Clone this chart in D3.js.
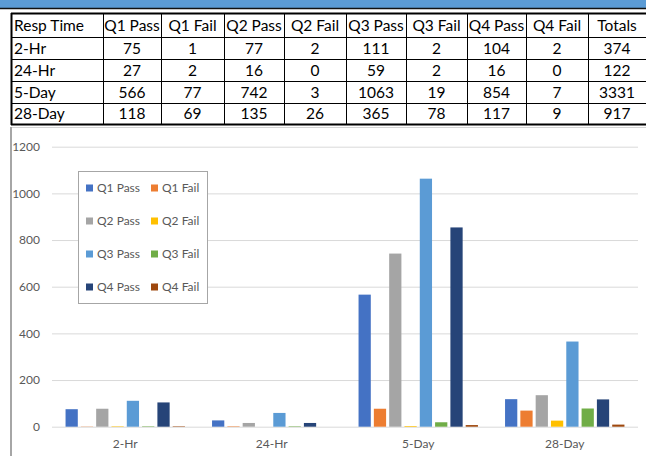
<!DOCTYPE html>
<meta charset="utf-8">
<html>
<head>
	<script src="https://d3js.org/d3.v7.min.js"></script>
	<style>
		body { margin: 0; background: #fff; }
		svg text { font-family: Lato, "Open Sans", sans-serif; }
	</style>
</head>
<body>
	<svg id="chart" width="646" height="456"></svg>

	<script>
	var categories = ["2-Hr", "24-Hr", "5-Day", "28-Day"];
	var seriesNames = ["Q1 Pass", "Q1 Fail", "Q2 Pass", "Q2 Fail", "Q3 Pass", "Q3 Fail", "Q4 Pass", "Q4 Fail"];
	var q1Pass = [75, 27, 566, 118];
	var q1Fail = [1, 2, 77, 69];
	var q2Pass = [77, 16, 742, 135];
	var q2Fail = [2, 0, 3, 26];
	var q3Pass = [111, 59, 1063, 365];
	var q3Fail = [2, 2, 19, 78];
	var q4Pass = [104, 16, 854, 117];
	var q4Fail = [2, 0, 7, 9];
	var totals = [374, 122, 3331, 917];
	var yTicks = [0, 200, 400, 600, 800, 1000, 1200];
	var colors = ["#4472c4", "#ed7d31", "#a5a5a5", "#ffc000", "#5b9bd5", "#70ad47", "#264478", "#9e480e"];

	var seriesValues = [q1Pass, q1Fail, q2Pass, q2Fail, q3Pass, q3Fail, q4Pass, q4Fail];

	var svg = d3.select("#chart");

	// blue strip + black line at the very top
	svg.append("rect").attr("x", 0).attr("y", 0).attr("width", 646).attr("height", 8).attr("fill", "#5b9bd5");
	svg.append("line").attr("x1", 0).attr("x2", 646).attr("y1", 8.5).attr("y2", 8.5).attr("stroke", "#111").attr("stroke-width", 1.5);

	// ---- table ----
	var colEdges = [11, 103, 161, 224, 284, 346, 406, 467, 526, 588, 646];
	var rowEdges = [13, 37, 59, 81, 103, 124];

	var header = ["Resp Time"].concat(seriesNames).concat(["Totals"]);
	var rows = [header].concat(categories.map(function(c, i) {
		return [c].concat(seriesValues.map(function(s) { return s[i]; })).concat([totals[i]]);
	}));

	var table = svg.append("g").attr("class", "table");

	rows.forEach(function(r, ri) {
		var yMid = (rowEdges[ri] + rowEdges[ri + 1]) / 2;
		table.selectAll(null)
			.data(r)
			.enter()
			.append("text")
				.attr("x", function(d, ci) { return ci == 0 ? colEdges[0] + 3 : (colEdges[ci] + colEdges[ci + 1]) / 2; })
				.attr("y", yMid + 5.5)
				.attr("text-anchor", function(d, ci) { return ci == 0 ? "start" : "middle"; })
				.attr("font-size", "15.5px")
				.attr("fill", "#000")
				.text(function(d) { return d; });
	});

	table.selectAll(".vline")
		.data(colEdges)
		.enter()
		.append("line")
			.attr("x1", function(d) { return d + 0.5; })
			.attr("x2", function(d) { return d + 0.5; })
			.attr("y1", rowEdges[0])
			.attr("y2", rowEdges[rowEdges.length - 1] + 1)
			.attr("stroke", "#000")
			.attr("stroke-width", function(d, i) { return i == 0 ? 2 : 1; });

	table.selectAll(".hline")
		.data(rowEdges)
		.enter()
		.append("line")
			.attr("x1", colEdges[0])
			.attr("x2", 646)
			.attr("y1", function(d) { return d + 0.5; })
			.attr("y2", function(d) { return d + 0.5; })
			.attr("stroke", "#000")
			.attr("stroke-width", function(d, i) { return (i == 0 || i == rowEdges.length - 1) ? 2 : 1; });

	// chart frame (left border + top border of the chart object)
	svg.append("line").attr("x1", 10).attr("x2", 646).attr("y1", 127.5).attr("y2", 127.5).attr("stroke", "#d4d4d4");
	svg.append("line").attr("x1", 11).attr("x2", 11).attr("y1", 127).attr("y2", 456).attr("stroke", "#a6a6a6").attr("stroke-width", 2);

	// ---- bar chart ----
	var plotLeft = 52, plotRight = 638;

	var y = d3.scaleLinear()
		.domain([0, 1200])
		.range([426.7, 146.7]);

	var x0 = d3.scaleBand()
		.domain(categories)
		.range([plotLeft, plotRight]);

	var x1 = d3.scaleBand()
		.domain(seriesNames)
		.range([0, x0.bandwidth()])
		.paddingInner(0.2)
		.paddingOuter(0.885);

	var yAxis = svg.append("g")
		.attr("transform", "translate(" + plotLeft + ",0)")
		.call(d3.axisLeft(y).tickValues(yTicks).tickFormat(d3.format("d")).tickSize(-(plotRight - plotLeft)).tickPadding(12));
	yAxis.select(".domain").remove();
	yAxis.selectAll("line").attr("stroke", "#d9d9d9");
	yAxis.selectAll("text").attr("fill", "#595959").attr("font-size", "12px").attr("font-family", "Lato, sans-serif");

	var xAxis = svg.append("g")
		.attr("transform", "translate(0," + y(0) + ")")
		.call(d3.axisBottom(x0).tickSize(0).tickPadding(13));
	xAxis.select(".domain").remove();
	xAxis.selectAll("text").attr("fill", "#595959").attr("font-size", "12px").attr("font-family", "Lato, sans-serif");

	var groups = svg.append("g")
		.selectAll("g")
		.data(categories)
		.enter()
		.append("g")
			.attr("transform", function(d) { return "translate(" + x0(d) + ",0)"; });

	groups.selectAll("rect")
		.data(function(d, i) {
			return seriesNames.map(function(s, si) { return {series: s, value: seriesValues[si][i], color: colors[si]}; });
		})
		.enter()
		.append("rect")
			.attr("x", function(d) { return x1(d.series); })
			.attr("width", x1.bandwidth())
			.attr("y", function(d) { return y(d.value); })
			.attr("height", function(d) { return y(0) - y(d.value); })
			.attr("fill", function(d) { return d.color; });

	// ---- legend ----
	var legend = svg.append("g").attr("transform", "translate(78,171)");
	legend.append("rect")
		.attr("x", 0.5).attr("y", 0.5)
		.attr("width", 129).attr("height", 132)
		.attr("fill", "#fff")
		.attr("stroke", "#a6a6a6");

	var items = legend.selectAll(".item")
		.data(seriesNames)
		.enter()
		.append("g")
			.attr("class", "item")
			.attr("transform", function(d, i) { return "translate(" + (8 + (i % 2) * 65) + "," + (17 + Math.floor(i / 2) * 33) + ")"; });

	items.append("rect")
		.attr("x", 0).attr("y", -3.5)
		.attr("width", 7).attr("height", 7)
		.attr("fill", function(d, i) { return colors[i]; });

	items.append("text")
		.attr("x", 11)
		.attr("y", 4)
		.attr("font-size", "12px")
		.attr("fill", "#595959")
		.text(function(d) { return d; });
	</script>
</body>
</html>
